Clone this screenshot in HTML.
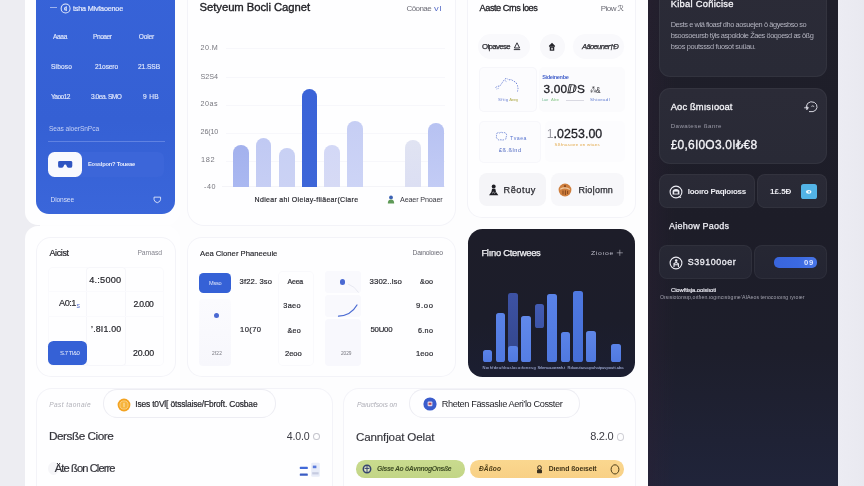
<!DOCTYPE html>
<html lang="en">
<head>
<meta charset="utf-8">
<title>Dashboard</title>
<style>
*{margin:0;padding:0;box-sizing:border-box}
html,body{width:864px;height:486px;overflow:hidden;background:#fdfdfe}
body{font-family:"Liberation Sans","DejaVu Sans",sans-serif;position:relative;-webkit-font-smoothing:antialiased}
#app{position:absolute;left:0;top:0;width:864px;height:486px;overflow:hidden}
.b{position:absolute;display:block}
.t{position:absolute;white-space:nowrap;line-height:1;transform-origin:0 50%;filter:blur(0.35px)}
svg.b{filter:blur(0.3px)}
</style>
</head>
<body>
<div id="app">
<div class="b" style="left:0.0px;top:0.0px;width:42.0px;height:486.0px;background:#ededf2;"></div>
<div class="b" style="left:40.0px;top:0.0px;width:608.0px;height:486.0px;background:#fdfdfe;"></div>
<div class="b" style="left:647.5px;top:0.0px;width:190.8px;height:486.0px;background:linear-gradient(90deg,rgba(44,32,52,0.4) 0%,rgba(44,32,52,0) 14%),linear-gradient(180deg,#1f1f2a 0%,#1d1d28 45%,#1d1e2b 72%,#20243a 100%);"></div>
<div class="b" style="left:838.3px;top:0.0px;width:25.7px;height:486.0px;background:linear-gradient(90deg,#ececf3,#e9e9f0);"></div>
<div class="b" style="left:25.0px;top:-20.0px;width:155.0px;height:245.2px;background:#fefeff;border-radius:13px;"></div>
<div class="b" style="left:25.0px;top:225.6px;width:155.0px;height:274.4px;background:#fefeff;border-radius:13px;"></div>
<div class="b" style="left:36.4px;top:-20.0px;width:138.8px;height:233.8px;background:linear-gradient(180deg,#3763d8 0%,#3560d4 60%,#3a66da 100%);border-radius:13px;"></div>
<div class="b" style="left:50.0px;top:6.6px;width:7.4px;height:0.9px;background:#9db2ee;"></div>
<svg class="b" style="left:59.6px;top:2.7px" width="11.2" height="11.2" viewBox="0 0 10 10"><circle cx="5" cy="5" r="4" fill="none" stroke="#e6ecfc" stroke-width="0.9"/><path d="M5.6 2.8v4.4M4.8 3.6Q3.4 5 4.8 6.6" stroke="#e6ecfc" stroke-width="0.9" fill="none"/></svg>
<span class="t" id="t0" style="left:73.0px;top:4.50px;font-size:7.2px;color:#e4eafc;letter-spacing:-0.183px;-webkit-text-stroke:0.2px #e4eafc;">tsha Mivfaoenoe</span>
<span class="t" id="t1" style="left:53.0px;top:33.80px;font-size:6.6px;color:#e0e7fb;letter-spacing:-0.352px;-webkit-text-stroke:0.15px #e0e7fb;">Aaaa</span>
<span class="t" id="t2" style="left:93.0px;top:33.80px;font-size:6.6px;color:#e0e7fb;letter-spacing:-0.461px;-webkit-text-stroke:0.15px #e0e7fb;">Pnoaer</span>
<span class="t" id="t3" style="left:138.8px;top:33.80px;font-size:6.6px;color:#e0e7fb;letter-spacing:-0.185px;-webkit-text-stroke:0.15px #e0e7fb;">Ooler</span>
<span class="t" id="t4" style="left:51.0px;top:64.00px;font-size:6.6px;color:#e0e7fb;letter-spacing:0.138px;-webkit-text-stroke:0.15px #e0e7fb;">Siboso</span>
<span class="t" id="t5" style="left:95.0px;top:64.00px;font-size:6.6px;color:#e0e7fb;letter-spacing:-0.121px;-webkit-text-stroke:0.15px #e0e7fb;">21osero</span>
<span class="t" id="t6" style="left:138.0px;top:64.00px;font-size:6.6px;color:#e0e7fb;letter-spacing:-0.062px;-webkit-text-stroke:0.15px #e0e7fb;">21.SSB</span>
<span class="t" id="t7" style="left:51.0px;top:94.00px;font-size:6.6px;color:#e0e7fb;letter-spacing:-0.542px;-webkit-text-stroke:0.15px #e0e7fb;">Yaoo12</span>
<span class="t" id="t8" style="left:91.0px;top:94.00px;font-size:6.6px;color:#e0e7fb;letter-spacing:-0.469px;-webkit-text-stroke:0.15px #e0e7fb;">3.0ea. SMO</span>
<span class="t" id="t9" style="left:143.0px;top:94.00px;font-size:6.6px;color:#e0e7fb;letter-spacing:0.332px;-webkit-text-stroke:0.15px #e0e7fb;">9 HB</span>
<span class="t" id="t10" style="left:49.0px;top:126.00px;font-size:6.6px;color:#c3cff5;letter-spacing:-0.064px;">Seas aloerSnPca</span>
<div class="b" style="left:48.0px;top:140.7px;width:117.0px;height:0.8px;background:#5f82e2;"></div>
<div class="b" style="left:70.0px;top:151.5px;width:93.5px;height:25.5px;background:#3c66d9;border-radius:6px;"></div>
<div class="b" style="left:48.0px;top:151.5px;width:34.3px;height:25.5px;background:#f8f9fe;border-radius:6.5px;"></div>
<svg class="b" style="left:57.2px;top:160.4px" width="16.4" height="10" viewBox="0 0 18 11"><path d="M1.2 2.6Q1.2 1 3 1H15Q16.8 1 16.8 2.6V6.5Q16.8 8.6 14.6 8.6H12.6Q11 8.6 10.6 6.6Q10.2 5 9 5Q7.8 5 7.4 6.6Q7 8.6 5.4 8.6H3.4Q1.2 8.6 1.2 6.5Z" fill="#2f55c2"/></svg>
<span class="t" id="t11" style="left:88.0px;top:161.50px;font-size:5.8px;color:#e6ebfc;font-weight:700;letter-spacing:-0.257px;">Eosslpon? Toueae</span>
<span class="t" id="t12" style="left:50.5px;top:196.80px;font-size:6.6px;color:#d7dff9;letter-spacing:-0.100px;">Dionsee</span>
<svg class="b" style="left:153.2px;top:196.2px" width="8.6" height="7.8" viewBox="0 0 10 9"><path d="M1.2 1.3H8.8V4Q8.8 6.6 5 7.8Q1.2 6.6 1.2 4Z" fill="none" stroke="#e6ecfc" stroke-width="1"/></svg>
<div class="b" style="left:186.8px;top:-20.5px;width:269.3px;height:246.6px;background:#fefeff;border-radius:17px;box-shadow:inset 0 0 0 1px #f3f3f8;"></div>
<span class="t" id="t13" style="left:199.6px;top:2.35px;font-size:11.3px;color:#1f1f24;letter-spacing:-0.069px;-webkit-text-stroke:0.35px #1f1f24;">Setyeum Bocli Cagnet</span>
<span class="t" id="t14" style="left:406.6px;top:5.20px;font-size:8px;color:#6e6e78;letter-spacing:-0.605px;">Cöonae</span>
<span class="t" id="t15" style="left:433.5px;top:5.20px;font-size:8px;color:#5a6fc8;letter-spacing:0.720px;transform:scaleX(1.177);">vl</span>
<span class="t" id="t16" style="left:200.6px;top:44.20px;font-size:7.2px;color:#77777f;letter-spacing:0.354px;">20.M</span>
<span class="t" id="t17" style="left:200.6px;top:73.20px;font-size:7.2px;color:#77777f;letter-spacing:-0.048px;">S2S4</span>
<span class="t" id="t18" style="left:200.6px;top:100.20px;font-size:7.2px;color:#77777f;letter-spacing:0.452px;">20as</span>
<span class="t" id="t19" style="left:200.6px;top:127.70px;font-size:7.2px;color:#77777f;letter-spacing:-0.198px;">26(10</span>
<span class="t" id="t20" style="left:200.6px;top:155.70px;font-size:7.2px;color:#77777f;letter-spacing:0.648px;transform:scaleX(1.033);">182</span>
<span class="t" id="t21" style="left:204.0px;top:182.80px;font-size:7.2px;color:#77777f;letter-spacing:0.536px;">-40</span>
<div class="b" style="left:226.0px;top:48.2px;width:219.0px;height:0.8px;background:#f7f7fb;"></div>
<div class="b" style="left:226.0px;top:77.2px;width:219.0px;height:0.8px;background:#f7f7fb;"></div>
<div class="b" style="left:226.0px;top:104.7px;width:219.0px;height:0.8px;background:#f7f7fb;"></div>
<div class="b" style="left:226.0px;top:133.1px;width:219.0px;height:0.8px;background:#f7f7fb;"></div>
<div class="b" style="left:226.0px;top:161.1px;width:219.0px;height:0.8px;background:#f7f7fb;"></div>
<div class="b" style="left:222.0px;top:186.4px;width:223.0px;height:0.6px;background:#f4f4f8;"></div>
<div class="b" style="left:232.8px;top:144.6px;width:15.8px;height:42.0px;background:linear-gradient(180deg,#a3b1ed,#aab8f1);border-radius:7.9px 7.9px 0 0;"></div>
<div class="b" style="left:255.9px;top:137.8px;width:15.6px;height:48.8px;background:linear-gradient(180deg,#c0c9f3,#c6cef4);border-radius:7.8px 7.8px 0 0;"></div>
<div class="b" style="left:278.8px;top:147.9px;width:15.8px;height:38.7px;background:linear-gradient(180deg,#c8d0f4,#cbd2f4);border-radius:7.9px 7.9px 0 0;"></div>
<div class="b" style="left:301.6px;top:89.2px;width:15.6px;height:97.4px;background:linear-gradient(180deg,#3a63d8,#3d66d8);border-radius:7.8px 7.8px 0 0;"></div>
<div class="b" style="left:324.3px;top:145.4px;width:15.7px;height:41.2px;background:linear-gradient(180deg,#d3d8f6,#d6daf5);border-radius:7.8px 7.8px 0 0;"></div>
<div class="b" style="left:347.2px;top:121.0px;width:15.8px;height:65.6px;background:linear-gradient(180deg,#c6cef4,#cdd4f6);border-radius:7.9px 7.9px 0 0;"></div>
<div class="b" style="left:405.3px;top:140.0px;width:15.9px;height:46.6px;background:linear-gradient(180deg,#e0e3f2,#dcdff3);border-radius:7.9px 7.9px 0 0;"></div>
<div class="b" style="left:428.0px;top:122.5px;width:15.6px;height:64.1px;background:linear-gradient(180deg,#b7c2f2,#c3ccf5);border-radius:7.8px 7.8px 0 0;"></div>
<span class="t" id="t22" style="left:254.6px;top:195.70px;font-size:7px;color:#2c2c33;letter-spacing:0.311px;-webkit-text-stroke:0.2px #2c2c33;">Ndiear ahi Oieiay-fliäear(Ciare</span>
<svg class="b" style="left:387px;top:195px" width="8" height="9" viewBox="0 0 8 9"><circle cx="4" cy="2.4" r="1.9" fill="#3c62b4"/><path d="M0.8 8.4Q0.8 4.6 4 4.6Q7.2 4.6 7.2 8.4Z" fill="#5f9a58"/></svg>
<span class="t" id="t23" style="left:400.0px;top:195.60px;font-size:7.2px;color:#3a3a42;letter-spacing:-0.155px;">Aeaer Pnoaer</span>
<div class="b" style="left:467.1px;top:-20.5px;width:168.8px;height:238.5px;background:#fefeff;border-radius:15px;box-shadow:inset 0 0 0 1px #f3f3f8;"></div>
<span class="t" id="t24" style="left:479.6px;top:4.20px;font-size:9.2px;color:#222228;letter-spacing:-0.471px;-webkit-text-stroke:0.3px #222228;">Aaste Crns loes</span>
<span class="t" id="t25" style="left:600.8px;top:5.20px;font-size:8px;color:#6a6a74;letter-spacing:-0.559px;">Piow ℛ</span>
<div class="b" style="left:478.0px;top:34.0px;width:52.3px;height:24.5px;background:#f9f9fc;border-radius:12.5px;"></div>
<span class="t" id="t26" style="left:482.0px;top:42.50px;font-size:7.8px;color:#2a2a30;letter-spacing:-0.619px;-webkit-text-stroke:0.25px #2a2a30;">Oipavese</span>
<svg class="b" style="left:513px;top:42px" width="8" height="9" viewBox="0 0 8 9"><path d="M4 0.8L6.6 6H1.4Z M0.8 7.6H7.2" fill="none" stroke="#33333a" stroke-width="1"/></svg>
<div class="b" style="left:540.0px;top:34.2px;width:24.6px;height:24.6px;background:#f8f8fb;border-radius:12.3px;"></div>
<svg class="b" style="left:548.4px;top:42.4px" width="8" height="9.6" viewBox="0 0 10 11" preserveAspectRatio="none"><path d="M1.2 4.2L5 1L8.8 4.2V5.4H1.2Z" fill="#26262c"/><rect x="2.2" y="5.4" width="5.6" height="4.6" fill="#26262c"/><rect x="4.1" y="6.6" width="1.8" height="2.2" fill="#f6f6f9"/></svg>
<div class="b" style="left:573.0px;top:34.0px;width:51.2px;height:24.5px;background:#f9f9fc;border-radius:12.5px;"></div>
<span class="t" id="t27" style="left:582.0px;top:42.60px;font-size:7.6px;color:#2a2a30;font-style:italic;letter-spacing:-0.666px;-webkit-text-stroke:0.25px #2a2a30;">Aäoeuner†Ð</span>
<div class="b" style="left:479.0px;top:66.8px;width:58.3px;height:45.5px;background:#fcfcfe;border-radius:5px;box-shadow:inset 0 0 0 1px #f6f6fa;"></div>
<svg class="b" style="left:494px;top:75.5px" width="28" height="20" viewBox="0 0 28 20"><path d="M1.5 11.5L4 10L5.5 10.5L8 7L10.5 3.5L12.5 2L14.5 4L17 3.5L19.5 5L22 6.5L23.5 9.5L24 12.5L23.5 15.5" fill="none" stroke="#7489d8" stroke-width="1" stroke-dasharray="1.5 1.2"/><path d="M2.5 13L5 12.2M11 4.5L13 6" stroke="#8598dc" stroke-width="0.9" stroke-dasharray="1 1"/></svg>
<span class="t" id="t28" style="left:498.0px;top:97.75px;font-size:4.3px;color:#6d82d2;letter-spacing:0.378px;">Sftig</span>
<span class="t" id="t29" style="left:509.3px;top:97.75px;font-size:4.3px;color:#b5b058;letter-spacing:-0.387px;">Aeeg</span>
<div class="b" style="left:539.2px;top:67.3px;width:85.4px;height:44.5px;background:#fbfbfd;border-radius:5px;"></div>
<span class="t" id="t30" style="left:542.2px;top:75.30px;font-size:5.6px;color:#4a66cc;font-weight:700;letter-spacing:-0.354px;">Sideinenbe</span>
<span class="t" id="t31" style="left:543.5px;top:84.20px;font-size:11.8px;color:#202026;letter-spacing:0.167px;-webkit-text-stroke:0.3px #202026;">3.00ⅅS</span>
<span class="t" id="t32" style="left:590.0px;top:85.90px;font-size:9px;color:#33333a;letter-spacing:-0.810px;transform:scaleX(0.747);">⁂&amp;</span>
<span class="t" id="t33" style="left:542.0px;top:98.30px;font-size:4.2px;color:#7bbf9a;letter-spacing:-0.333px;">Lae</span>
<span class="t" id="t34" style="left:551.0px;top:98.30px;font-size:4.2px;color:#8cc98c;letter-spacing:-0.098px;">Alee</span>
<div class="b" style="left:566.0px;top:99.6px;width:18.0px;height:0.6px;background:#d9d9e2;"></div>
<span class="t" id="t35" style="left:590.0px;top:98.20px;font-size:4.4px;color:#5d7ad0;letter-spacing:0.363px;">Shioeadl</span>
<div class="b" style="left:479.0px;top:120.8px;width:61.5px;height:42.0px;background:#fcfcfe;border-radius:5px;box-shadow:inset 0 0 0 1px #f7f7fb;"></div>
<svg class="b" style="left:494.8px;top:131.2px" width="13" height="11" viewBox="0 0 13 11"><path d="M2 2.4Q3 0.8 4.6 2Q6.4 0.6 8 2Q10 1 11 2.6Q12.4 4.4 11 6Q11.6 8.4 9.4 8.4Q7.6 9.6 6 8.6Q3.6 9.6 2.6 8Q0.6 6.8 1.8 5Q0.8 3.6 2 2.4Z" fill="none" stroke="#5873cf" stroke-width="0.8" stroke-dasharray="1.6 0.9"/></svg>
<span class="t" id="t36" style="left:509.5px;top:135.80px;font-size:5px;color:#5a76d0;letter-spacing:0.450px;transform:scaleX(1.052);">Tvaea</span>
<span class="t" id="t37" style="left:499.0px;top:148.20px;font-size:5.6px;color:#4c66c0;letter-spacing:0.504px;">£ß.ßlnd</span>
<div class="b" style="left:545.0px;top:121.3px;width:79.6px;height:41.0px;background:#fcfcfe;border-radius:5px;"></div>
<span class="t" id="t38" style="left:546.8px;top:127.80px;font-size:12.4px;color:#9b9ba4;letter-spacing:-1.106px;">1</span>
<span class="t" id="t39" style="left:553.6px;top:127.80px;font-size:12.4px;color:#1e1e24;letter-spacing:0.058px;-webkit-text-stroke:0.3px #1e1e24;">.0253.00</span>
<span class="t" id="t40" style="left:554.5px;top:142.70px;font-size:4.4px;color:#e3a94a;letter-spacing:0.304px;">Sßfnasoee on wtaes</span>
<div class="b" style="left:478.9px;top:173.4px;width:67.3px;height:32.6px;background:#f5f5f8;border-radius:8px;"></div>
<svg class="b" style="left:488.4px;top:183.8px" width="11.4" height="12.6" viewBox="0 0 12 14"><circle cx="6" cy="2.8" r="2.2" fill="#1f1f25"/><path d="M4.2 5.2H7.8L8.6 9L11.2 12.6H0.8L3.4 9Z" fill="#1f1f25"/><path d="M4.2 10.4L5.6 9L7 10.2L8 9.4" stroke="#f3f3f7" stroke-width="0.7" fill="none"/></svg>
<span class="t" id="t41" style="left:503.5px;top:185.80px;font-size:9.2px;color:#2a2a30;letter-spacing:0.562px;-webkit-text-stroke:0.25px #2a2a30;">Rẽotuy</span>
<div class="b" style="left:551.3px;top:173.4px;width:72.9px;height:32.6px;background:#f7f7fa;border-radius:8px;"></div>
<svg class="b" style="left:558px;top:183px" width="14" height="14" viewBox="0 0 14 14"><circle cx="7" cy="7" r="6.4" fill="#cf7f3e"/><path d="M2.2 6.2Q7 3.4 11.8 6.4" stroke="#f2cfa8" stroke-width="1.2" fill="none"/><path d="M5 7.6V11.4M7.4 7.2V12M9.6 7.8V11" stroke="#8a4a1e" stroke-width="1.1" fill="none"/><circle cx="7" cy="3.2" r="1.1" fill="#8a4a1e"/></svg>
<span class="t" id="t42" style="left:578.5px;top:185.90px;font-size:9px;color:#2a2a30;letter-spacing:0.163px;-webkit-text-stroke:0.25px #2a2a30;">Rio|omn</span>
<div class="b" style="left:468.0px;top:229.3px;width:167.4px;height:147.5px;background:linear-gradient(180deg,#1d1d29 0%,#1c1d2a 60%,#1b1e31 100%);border-radius:14.5px;"></div>
<span class="t" id="t43" style="left:481.4px;top:247.70px;font-size:9.4px;color:#f2f2f6;letter-spacing:-0.282px;-webkit-text-stroke:0.25px #f2f2f6;">Flıno Cterwees</span>
<span class="t" id="t44" style="left:591.0px;top:250.10px;font-size:6.2px;color:#b9b9c6;letter-spacing:0.558px;transform:scaleX(1.119);">Zioıoe</span>
<svg class="b" style="left:616.3px;top:248.8px" width="7.6" height="7.6" viewBox="0 0 8 8"><path d="M4 0.8V7.2M0.8 4H7.2" stroke="#c4c4d0" stroke-width="0.6"/></svg>
<div class="b" style="left:482.7px;top:349.6px;width:9.4px;height:12.8px;background:linear-gradient(180deg,#5a83e8,#5079e0);border-radius:2.6px;"></div>
<div class="b" style="left:495.5px;top:313.4px;width:9.8px;height:49.0px;background:linear-gradient(180deg,#5a83e8,#5079e0);border-radius:2.6px;"></div>
<div class="b" style="left:508.3px;top:293.0px;width:9.8px;height:57.0px;background:linear-gradient(180deg,#3d52a4,#34488f);border-radius:2.6px;"></div>
<div class="b" style="left:508.3px;top:346.0px;width:9.8px;height:16.4px;background:linear-gradient(180deg,#5a83e8,#5079e0);border-radius:2.6px;"></div>
<div class="b" style="left:521.4px;top:316.4px;width:9.9px;height:46.0px;background:linear-gradient(180deg,#6189ea,#557ee4);border-radius:2.6px;"></div>
<div class="b" style="left:535.0px;top:303.9px;width:9.3px;height:24.4px;background:linear-gradient(180deg,#435cb4,#3c54a8);border-radius:2.6px;"></div>
<div class="b" style="left:547.3px;top:293.8px;width:10.0px;height:68.6px;background:linear-gradient(180deg,#5a83e8,#4f78df);border-radius:2.6px;"></div>
<div class="b" style="left:560.6px;top:332.0px;width:9.5px;height:30.4px;background:linear-gradient(180deg,#5a83e8,#5079e0);border-radius:2.6px;"></div>
<div class="b" style="left:573.4px;top:290.8px;width:9.8px;height:71.6px;background:linear-gradient(180deg,#4f79e0,#456ed6);border-radius:2.6px;"></div>
<div class="b" style="left:586.4px;top:331.0px;width:9.8px;height:31.4px;background:linear-gradient(180deg,#5f86e6,#5079e0);border-radius:2.6px;"></div>
<div class="b" style="left:611.3px;top:343.6px;width:10.1px;height:18.8px;background:linear-gradient(180deg,#5a83e8,#5079e0);border-radius:2.6px;"></div>
<span class="t" id="t45" style="left:482.5px;top:365.75px;font-size:4.1px;color:#b4c2ee;letter-spacing:0.294px;">Noıhfdeafıbaslocoıfonesg</span>
<span class="t" id="t46" style="left:537.5px;top:365.75px;font-size:4.1px;color:#b4c2ee;letter-spacing:-0.155px;">Srlensauoennh.t</span>
<span class="t" id="t47" style="left:567.5px;top:365.75px;font-size:4.1px;color:#b4c2ee;">Rduoutaısaıpuhatpavpoutt.aba</span>
<div class="b" style="left:35.9px;top:236.5px;width:139.8px;height:140.2px;background:#fefeff;border-radius:15px;box-shadow:inset 0 0 0 1px #f3f3f8;"></div>
<span class="t" id="t48" style="left:49.5px;top:248.50px;font-size:9px;color:#26262c;letter-spacing:-0.403px;-webkit-text-stroke:0.2px #26262c;">Aicist</span>
<span class="t" id="t49" style="left:137.4px;top:249.90px;font-size:6.8px;color:#85858f;letter-spacing:-0.056px;">Pamasd</span>
<div class="b" style="left:47.5px;top:266.5px;width:116.5px;height:99.5px;background:transparent;border-radius:5px;box-shadow:inset 0 0 0 1px #f9f9fc;"></div>
<div class="b" style="left:85.8px;top:266.5px;width:40.2px;height:99.5px;background:#fefeff;border-radius:4px;box-shadow:inset 0 0 0 1px #f6f6fa;"></div>
<div class="b" style="left:47.5px;top:290.5px;width:116.5px;height:26.5px;background:transparent;box-shadow:inset 0 0 0 1px #fafafd;"></div>
<span class="t" id="t50" style="left:89.3px;top:275.60px;font-size:9.2px;color:#26262c;letter-spacing:0.192px;-webkit-text-stroke:0.2px #26262c;">4.:5000</span>
<span class="t" id="t51" style="left:59.0px;top:299.30px;font-size:9.2px;color:#33333a;letter-spacing:-0.477px;-webkit-text-stroke:0.2px #26262c;">A0:1</span>
<span class="t" id="t52" style="left:76.5px;top:302.00px;font-size:7px;color:#5b74cf;letter-spacing:0.500px;">s</span>
<span class="t" id="t53" style="left:133.5px;top:299.70px;font-size:8.6px;color:#26262c;letter-spacing:-0.701px;-webkit-text-stroke:0.2px #26262c;">2.0.00</span>
<span class="t" id="t54" style="left:91.0px;top:324.90px;font-size:8.8px;color:#26262c;letter-spacing:0.180px;-webkit-text-stroke:0.2px #26262c;">’.8I1.00</span>
<div class="b" style="left:48.2px;top:341.0px;width:38.8px;height:24.4px;background:#3561d6;border-radius:5.5px;"></div>
<span class="t" id="t55" style="left:60.0px;top:350.20px;font-size:6px;color:#e8edfc;letter-spacing:-0.426px;">S.7 Tl&amp;0</span>
<span class="t" id="t56" style="left:133.0px;top:348.80px;font-size:8.8px;color:#26262c;letter-spacing:-0.203px;-webkit-text-stroke:0.2px #26262c;">20.00</span>
<div class="b" style="left:186.7px;top:236.5px;width:269.6px;height:140.2px;background:#fefeff;border-radius:15px;box-shadow:inset 0 0 0 1px #f3f3f8;"></div>
<span class="t" id="t57" style="left:200.0px;top:250.15px;font-size:7.7px;color:#26262c;-webkit-text-stroke:0.15px #26262c;">Aea Cloner Phaneeuie</span>
<span class="t" id="t58" style="left:412.6px;top:250.10px;font-size:6.8px;color:#6c6c76;letter-spacing:-0.279px;">Daınoloıeo</span>
<div class="b" style="left:199.4px;top:272.8px;width:31.7px;height:20.7px;background:#3561d6;border-radius:4.5px;"></div>
<span class="t" id="t59" style="left:209.0px;top:281.00px;font-size:5.6px;color:#dfe6fb;letter-spacing:-0.219px;">Msso</span>
<div class="b" style="left:199.4px;top:299.0px;width:31.7px;height:66.5px;background:linear-gradient(180deg,#fbfbfe,#f7f7fc);border-radius:4px;"></div>
<div class="b" style="left:214.2px;top:313.3px;width:5px;height:5px;border-radius:50%;background:#4a69d2"></div>
<span class="t" id="t60" style="left:212.0px;top:352.00px;font-size:4.8px;color:#77777f;letter-spacing:0.164px;">2f22</span>
<div class="b" style="left:277.5px;top:270.5px;width:36.3px;height:95.5px;background:transparent;border-radius:5px;box-shadow:inset 0 0 0 1px #f9f9fc;"></div>
<span class="t" id="t61" style="left:239.6px;top:278.10px;font-size:7.6px;color:#2b2b32;letter-spacing:0.150px;-webkit-text-stroke:0.2px #2b2b32;">3f22. 3so</span>
<span class="t" id="t62" style="left:287.6px;top:278.40px;font-size:7px;color:#2b2b32;letter-spacing:-0.240px;-webkit-text-stroke:0.2px #2b2b32;">Aeea</span>
<span class="t" id="t63" style="left:283.2px;top:301.80px;font-size:7.4px;color:#2b2b32;letter-spacing:0.337px;-webkit-text-stroke:0.2px #2b2b32;">3aeo</span>
<span class="t" id="t64" style="left:240.0px;top:326.20px;font-size:7.6px;color:#2b2b32;letter-spacing:0.412px;-webkit-text-stroke:0.2px #2b2b32;">10(70</span>
<span class="t" id="t65" style="left:287.5px;top:326.60px;font-size:7.2px;color:#2b2b32;letter-spacing:0.234px;-webkit-text-stroke:0.2px #2b2b32;">&amp;eo</span>
<span class="t" id="t66" style="left:285.0px;top:349.80px;font-size:7.6px;color:#2b2b32;letter-spacing:-0.052px;-webkit-text-stroke:0.2px #2b2b32;">2eoo</span>
<div class="b" style="left:325.0px;top:271.0px;width:36.0px;height:22.0px;background:#f9f9fd;border-radius:3px;"></div>
<div class="b" style="left:325.0px;top:295.0px;width:36.0px;height:22.0px;background:#f9f9fd;border-radius:3px;"></div>
<div class="b" style="left:325.0px;top:319.0px;width:36.0px;height:46.5px;background:#f8f8fd;border-radius:4px;"></div>
<div class="b" style="left:340.2px;top:279.4px;width:5.2px;height:5.2px;border-radius:50%;background:#4a69d2"></div>
<svg class="b" style="left:325px;top:271px" width="40" height="50" viewBox="0 0 40 50"><path d="M23 13Q30 15.5 33.5 21.5" fill="none" stroke="#e3e4ee" stroke-width="0.8"/><path d="M13.5 45.2Q26 44.5 32 34" fill="none" stroke="#4a6ad2" stroke-width="1.2" stroke-linecap="round"/></svg>
<span class="t" id="t67" style="left:341.0px;top:352.00px;font-size:4.8px;color:#77777f;letter-spacing:-0.043px;">2029</span>
<span class="t" id="t68" style="left:369.6px;top:278.00px;font-size:7.8px;color:#2b2b32;letter-spacing:0.083px;-webkit-text-stroke:0.2px #2b2b32;">3302..lso</span>
<span class="t" id="t69" style="left:420.0px;top:278.30px;font-size:7.2px;color:#2b2b32;letter-spacing:0.134px;-webkit-text-stroke:0.2px #2b2b32;">&amp;oo</span>
<span class="t" id="t70" style="left:415.5px;top:301.80px;font-size:7.4px;color:#2b2b32;letter-spacing:0.666px;transform:scaleX(1.038);-webkit-text-stroke:0.2px #2b2b32;">9.oo</span>
<span class="t" id="t71" style="left:370.5px;top:326.10px;font-size:7.8px;color:#2b2b32;letter-spacing:-0.237px;-webkit-text-stroke:0.2px #2b2b32;">50U00</span>
<span class="t" id="t72" style="left:418.0px;top:326.60px;font-size:7.2px;color:#2b2b32;letter-spacing:0.300px;-webkit-text-stroke:0.2px #2b2b32;">6.no</span>
<span class="t" id="t73" style="left:416.0px;top:349.80px;font-size:7.6px;color:#2b2b32;letter-spacing:0.073px;-webkit-text-stroke:0.2px #2b2b32;">1eoo</span>
<div class="b" style="left:35.9px;top:388.3px;width:296.8px;height:132.2px;background:#fefeff;border-radius:16px;box-shadow:inset 0 0 0 1px #f3f3f8;"></div>
<span class="t" id="t74" style="left:49.2px;top:401.70px;font-size:6.6px;color:#b0b0b8;font-style:italic;letter-spacing:0.427px;">Past taonaie</span>
<div class="b" style="left:102.5px;top:388.5px;width:173.6px;height:29.4px;background:#fefeff;border-radius:14.2px;box-shadow:inset 0 0 0 1px #ededf3;"></div>
<svg class="b" style="left:117px;top:397.5px" width="14" height="14" viewBox="0 0 14 14"><circle cx="7" cy="7" r="6.4" fill="#f3a321"/><circle cx="7" cy="7" r="4.1" fill="#f6b43c" stroke="#fbd38a" stroke-width="0.9"/><path d="M7 4.8V9.2" stroke="#fde5b5" stroke-width="1"/></svg>
<span class="t" id="t75" style="left:135.2px;top:400.00px;font-size:8.4px;color:#26262c;letter-spacing:-0.139px;-webkit-text-stroke:0.2px #26262c;">Ises t0Vl[ ötsslaise/Fbroft. Cosbae</span>
<span class="t" id="t76" style="left:49.0px;top:430.70px;font-size:11.8px;color:#33333a;letter-spacing:-0.496px;-webkit-text-stroke:0.2px #33333a;">Dersße Ciore</span>
<span class="t" id="t77" style="left:286.8px;top:431.00px;font-size:10.6px;color:#3c3c44;letter-spacing:-0.152px;">4.0.0</span>
<div class="b" style="left:313.4px;top:432.8px;width:6.8px;height:7.6px;border-radius:50%;box-shadow:inset 0 0 0 1px #c6c6ce"></div>
<div class="b" style="left:47.5px;top:462px;width:11px;height:13px;border-radius:50%;background:#f5f5f8"></div>
<span class="t" id="t78" style="left:54.8px;top:462.60px;font-size:11.2px;color:#33333a;letter-spacing:-0.925px;-webkit-text-stroke:0.2px #33333a;">Äte ßon Clerre</span>
<svg class="b" style="left:298.5px;top:462px" width="22" height="16" viewBox="0 0 22 16"><rect x="12.2" y="0.8" width="8.6" height="14" rx="1.2" fill="#e8ecf8"/><rect x="13.8" y="3.6" width="3.6" height="2.6" fill="#5a7bdc"/><rect x="13.2" y="10.2" width="6.4" height="2.2" fill="#c6cbe0"/><rect x="0.8" y="4.8" width="8" height="2.2" rx="0.6" fill="#4169d8"/><rect x="0.8" y="11.4" width="8" height="2.4" rx="0.6" fill="#3a5cc4"/></svg>
<div class="b" style="left:343.3px;top:388.3px;width:292.6px;height:132.2px;background:#fefeff;border-radius:16px;box-shadow:inset 0 0 0 1px #f3f3f8;"></div>
<span class="t" id="t79" style="left:356.9px;top:401.90px;font-size:6.8px;color:#adadb6;font-style:italic;letter-spacing:-0.084px;">Paıucfsoıs on</span>
<div class="b" style="left:409.1px;top:388.5px;width:170.9px;height:29.4px;background:#fefeff;border-radius:14.2px;box-shadow:inset 0 0 0 1px #ededf3;"></div>
<svg class="b" style="left:423px;top:397.2px" width="14" height="14" viewBox="0 0 14 14"><circle cx="7" cy="7" r="6.6" fill="#3a5ccc"/><rect x="4.6" y="4.6" width="4.8" height="4.6" rx="1" fill="#e8d9e6"/><rect x="5.6" y="5.8" width="2.8" height="2" fill="#b8445a"/></svg>
<span class="t" id="t80" style="left:441.8px;top:399.60px;font-size:9.2px;color:#1f1f25;letter-spacing:-0.399px;">Rheten Fässaslıe Aeri’lo Cosster</span>
<span class="t" id="t81" style="left:355.9px;top:431.40px;font-size:11.6px;color:#34343b;letter-spacing:-0.138px;-webkit-text-stroke:0.15px #34343b;">Cannfjoat Oelat</span>
<span class="t" id="t82" style="left:590.2px;top:431.30px;font-size:11px;color:#3c3c44;letter-spacing:-0.254px;">8.2.0</span>
<div class="b" style="left:616.8px;top:433.2px;width:6.8px;height:7.6px;border-radius:50%;box-shadow:inset 0 0 0 1px #d0d0d6"></div>
<div class="b" style="left:355.9px;top:460.2px;width:109.1px;height:17.5px;background:linear-gradient(180deg,#c9db8f,#c2d586);border-radius:8.8px;"></div>
<svg class="b" style="left:361.5px;top:464px" width="10" height="10" viewBox="0 0 10 10"><circle cx="5" cy="5" r="3.7" fill="#dfe6c8" stroke="#36446e" stroke-width="1.5"/><path d="M5 2V8M2.6 4.4H7.4" stroke="#36446e" stroke-width="1"/></svg>
<span class="t" id="t83" style="left:377.0px;top:466.40px;font-size:6.8px;color:#3f4d25;font-weight:700;font-style:italic;letter-spacing:-0.357px;">Gisse Ao öAvnnogOnsße</span>
<div class="b" style="left:470.0px;top:460.2px;width:154.0px;height:17.5px;background:linear-gradient(180deg,#fad78f,#f8d086);border-radius:8.8px;"></div>
<span class="t" id="t84" style="left:479.0px;top:466.10px;font-size:6.6px;color:#4a3a14;font-weight:700;font-style:italic;letter-spacing:0.078px;">ÐÃßoo</span>
<svg class="b" style="left:536px;top:464.6px" width="7" height="9" viewBox="0 0 7 9"><circle cx="3.5" cy="2.6" r="1.9" fill="none" stroke="#3a3020" stroke-width="1"/><rect x="1" y="4.6" width="5" height="3.6" rx="0.8" fill="#3a3020"/></svg>
<span class="t" id="t85" style="left:548.7px;top:465.60px;font-size:6.8px;color:#3e3216;font-weight:700;letter-spacing:-0.030px;">Dıeınd ßoeıseit</span>
<svg class="b" style="left:608.5px;top:462.5px" width="12" height="13" viewBox="0 0 12 13"><ellipse cx="6" cy="6.4" rx="3.9" ry="4.6" fill="none" stroke="#4a3c18" stroke-width="1"/></svg>
<div class="b" style="left:659.0px;top:-20.0px;width:168.2px;height:96.7px;background:linear-gradient(180deg,#2b2b37,#292a36);border-radius:11px;box-shadow:inset 0 0 0 1px rgba(255,255,255,0.045);"></div>
<span class="t" id="t86" style="left:670.7px;top:-0.70px;font-size:9.4px;color:#f4f4f8;letter-spacing:0.264px;-webkit-text-stroke:0.3px #f4f4f8;">Kibal Coñicise</span>
<span class="t" id="t87" style="left:670.7px;top:21.00px;font-size:7.4px;color:#b3b3bf;letter-spacing:-0.411px;">Dests e wiä fioasf dho aosuejen ô ägyesbso so</span>
<span class="t" id="t88" style="left:670.7px;top:31.80px;font-size:7.4px;color:#b3b3bf;letter-spacing:-0.435px;">bsoosoeursb tÿls aspoldoie Žaes öoqoesd as ößg</span>
<span class="t" id="t89" style="left:670.7px;top:42.90px;font-size:7.4px;color:#b3b3bf;letter-spacing:-0.325px;">bsos poutsssd fuosot suüau.</span>
<div class="b" style="left:659.0px;top:88.0px;width:168.2px;height:76.2px;background:linear-gradient(180deg,#2b2b37,#292a36);border-radius:11px;box-shadow:inset 0 0 0 1px rgba(255,255,255,0.045);"></div>
<span class="t" id="t90" style="left:670.7px;top:101.50px;font-size:9.4px;color:#f4f4f8;letter-spacing:0.111px;-webkit-text-stroke:0.3px #f4f4f8;">Aoc ßmısıooat</span>
<svg class="b" style="left:802.5px;top:100px" width="16" height="14" viewBox="0 0 16 14"><path d="M4.2 9.8Q2.2 6.6 4.6 3.4Q7.6 0.6 11.4 2.4Q14.4 4.2 14 7.6Q13.4 10.8 10 11.6L6 11.6" fill="none" stroke="#e8e8f0" stroke-width="0.9"/><path d="M1.2 7.8H5.2M3.4 6.2L5.4 7.8L3.4 9.6" fill="none" stroke="#e8e8f0" stroke-width="0.9"/><path d="M8.4 6.4Q9.8 5.2 11.2 6.6" fill="none" stroke="#e8e8f0" stroke-width="0.8"/></svg>
<span class="t" id="t91" style="left:670.7px;top:122.90px;font-size:6.2px;color:#9b9ba8;letter-spacing:0.420px;">Dawatese  ßanre</span>
<span class="t" id="t92" style="left:670.7px;top:139.20px;font-size:12px;color:#f4f4f8;letter-spacing:0.214px;-webkit-text-stroke:0.3px #f4f4f8;">£0,6I0O3.0I₺€8</span>
<div class="b" style="left:659.0px;top:174.3px;width:95.9px;height:33.5px;background:linear-gradient(180deg,#2a2a36,#282935);border-radius:8px;box-shadow:inset 0 0 0 1px rgba(255,255,255,0.045);"></div>
<svg class="b" style="left:669px;top:185px" width="14" height="14" viewBox="0 0 14 14"><circle cx="7" cy="7" r="5.9" fill="none" stroke="#ececf3" stroke-width="1.1"/><path d="M3.6 9.6V6.6Q3.6 4 7 4Q10.4 4 10.4 6.6V9.6Z" fill="#ececf3"/><rect x="5.2" y="6.6" width="3.6" height="2" fill="#2a2a36"/><path d="M9.6 11.4L12 12.6" stroke="#ececf3" stroke-width="1.1"/></svg>
<span class="t" id="t93" style="left:687.7px;top:187.80px;font-size:8px;color:#ededf3;font-weight:700;letter-spacing:-0.246px;">Iooıro Paqioıoss</span>
<div class="b" style="left:757.3px;top:174.3px;width:69.9px;height:33.5px;background:linear-gradient(180deg,#2a2a36,#282935);border-radius:8px;box-shadow:inset 0 0 0 1px rgba(255,255,255,0.045);"></div>
<span class="t" id="t94" style="left:770.0px;top:187.60px;font-size:8px;color:#ededf3;font-weight:700;letter-spacing:0.008px;">1£.5Ð</span>
<div class="b" style="left:801.0px;top:184.4px;width:16.2px;height:15.1px;background:#52b3e6;border-radius:2.6px;"></div>
<svg class="b" style="left:805.4px;top:189px" width="7.4" height="5.8" viewBox="0 0 9 7"><ellipse cx="4.5" cy="3.4" rx="3.4" ry="2.3" fill="#f2fbff"/><circle cx="5" cy="3.4" r="1.1" fill="#52b3e6"/></svg>
<span class="t" id="t95" style="left:669.0px;top:221.50px;font-size:9px;color:#eeeef4;letter-spacing:0.229px;-webkit-text-stroke:0.25px #eeeef4;">Aiehow Paods</span>
<div class="b" style="left:659.0px;top:245.0px;width:92.9px;height:33.9px;background:linear-gradient(180deg,#272834,#252633);border-radius:8px;box-shadow:inset 0 0 0 1px rgba(255,255,255,0.045);"></div>
<svg class="b" style="left:669px;top:255.5px" width="14" height="14" viewBox="0 0 14 14"><circle cx="7" cy="7" r="5.9" fill="none" stroke="#ececf3" stroke-width="1.1"/><circle cx="7.2" cy="4.6" r="1.3" fill="#ececf3"/><path d="M5 11V7.6L7.2 6.4L9.4 7.8V11M5.4 8.8H9" fill="none" stroke="#ececf3" stroke-width="1.1"/></svg>
<span class="t" id="t96" style="left:687.7px;top:258.15px;font-size:8.9px;color:#ededf3;letter-spacing:0.574px;-webkit-text-stroke:0.3px #ededf3;">S39100oer</span>
<div class="b" style="left:754.3px;top:245.0px;width:72.9px;height:33.9px;background:linear-gradient(180deg,#262733,#242532);border-radius:8px;box-shadow:inset 0 0 0 1px rgba(255,255,255,0.045);"></div>
<div class="b" style="left:774.4px;top:256.5px;width:42.8px;height:11.9px;background:linear-gradient(90deg,#3965dc,#3b69e0 55%,#4875e6);border-radius:5px;"></div>
<span class="t" id="t97" style="left:803.5px;top:260.10px;font-size:6.6px;color:#dfe8ff;font-weight:700;letter-spacing:0.594px;transform:scaleX(1.172);">09</span>
<span class="t" id="t98" style="left:671.0px;top:287.70px;font-size:5.8px;color:#e6e6ee;letter-spacing:-0.054px;-webkit-text-stroke:0.2px #e6e6ee;">Ciowftisja.ooisiıoti</span>
<span class="t" id="t99" style="left:660.0px;top:295.10px;font-size:5.2px;color:#a2a2ae;letter-spacing:0.057px;">Oısısiotonsıp,oıtfıen.ıogıncıstıgıne’AIAeos tenocoıoıng ıyıoıer</span>
</div>
</body>
</html>
